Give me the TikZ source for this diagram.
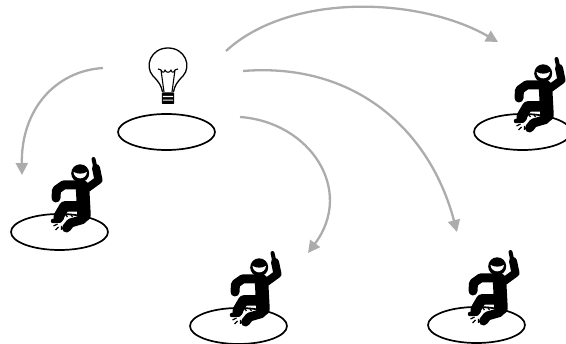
\documentclass[tikz,border=0pt]{standalone}
\usetikzlibrary{arrows.meta,shapes.geometric}
\definecolor{arrowgray}{RGB}{172,172,172}
\tikzset{
  disc/.style={draw=black,line width=1.7pt,fill=none,ellipse,inner sep=0pt,minimum width=97pt,minimum height=36pt},
  flow/.style={draw=arrowgray,line width=2.3pt,-{Triangle[length=12pt,width=12pt]}},
  limb/.style={draw=black,line cap=round,line join=round},
  pics/person/.style={code={
    \fill[black] (20.7,-58.7) circle (9);
    \fill[white] (14,-60) .. controls (15,-51.5) and (26.5,-51.5) .. (27.5,-60) .. controls (24,-57.8) and (17.5,-57.8) .. cycle;
    \draw[limb,line width=8pt] (28,-44) -- (39,-52) -- (36.5,-64);
    \draw[limb,line width=4pt] (36,-64) -- (34,-73);
    \draw[limb,line width=13.5pt] (23,-45) -- (24.5,-17);
    \draw[limb,line width=9pt] (22,-47) -- (4,-47) -- (-3,-42) -- (-3.5,-34);
    \draw[limb,line width=10.5pt] (22,-25.5) -- (5,-25.5) -- (0,-17) -- (-1,-14);
    \draw[limb,line width=4.5pt] (-1,-11.5) -- (-6.5,-11);
    \draw[limb,line width=9pt] (23,-12.5) -- (11,-9) -- (7,-4);
    \draw[black,line width=1.2pt] (-2,-8) -- (-6,-6) (-1,-5) -- (-4,-2) (2,-6) -- (2,-2);
    \draw[black,line width=1.2pt] (6,-17.5) -- (8,-15) (11,-18) -- (13,-15);
  }},
  pics/bulb/.style={code={
    \draw[black,line width=1.3pt,line join=round]
      (-5.5,-12) .. controls (-6.5,-18) and (-9,-22) .. (-15,-28)
      .. controls (-24,-38) and (-17,-56) .. (0,-56)
      .. controls (17,-56) and (24,-38) .. (15,-28)
      .. controls (9,-22) and (6.5,-18) .. (5.5,-12);
    \draw[black,line width=1.1pt,line join=round]
      (-4,-12) -- (-7,-34) .. controls (-5.5,-31) and (-4,-31) .. (-3,-34)
      .. controls (-2,-31) and (2,-31) .. (3,-34)
      .. controls (4,-31) and (5.5,-31) .. (7,-34) -- (4,-12);
    \draw[black,line width=1.1pt] (-7,-34) -- (-10,-35) (7,-34) -- (10,-35);
    \fill[black,rounded corners=.8pt] (-6.2,-11.5) rectangle (6.2,0);
    \fill[white] (-5.2,-8) rectangle (5.2,-6.9) (-5.2,-4.4) rectangle (5.2,-3.3);
  }}
}
\begin{document}
\begin{tikzpicture}[x=1pt,y=-1pt]
\useasboundingbox (0,0) rectangle (566,344);
\node[disc] (d0) at (166.5,132) {};
\node[disc] (d1) at (59.5,232) {};
\node[disc] (d2) at (238.5,326) {};
\node[disc] (d3) at (476.5,325) {};
\node[disc] (d4) at (522.5,132) {};
\pic at (168,104) {bulb};
\pic at (d1.center) {person};
\pic at (d2.center) {person};
\pic at (d3.center) {person};
\pic at (d4.center) {person};
\coordinate (s1) at (103,68); \coordinate (e1) at (22,175);
\coordinate (s2) at (226,51); \coordinate (e2) at (498,42);
\coordinate (s3) at (243,71); \coordinate (e3) at (457,232);
\coordinate (s4) at (240,117); \coordinate (e4) at (308,253);
\draw[flow] (s1) .. controls (55,71) and (21,110) .. (e1);
\draw[flow] (s2) .. controls (290,-8) and (420,-3) .. (e2);
\draw[flow] (s3) .. controls (355,62) and (430,130) .. (e3);
\draw[flow] (s4) .. controls (310,122) and (355,190) .. (e4);
\end{tikzpicture}
\end{document}
